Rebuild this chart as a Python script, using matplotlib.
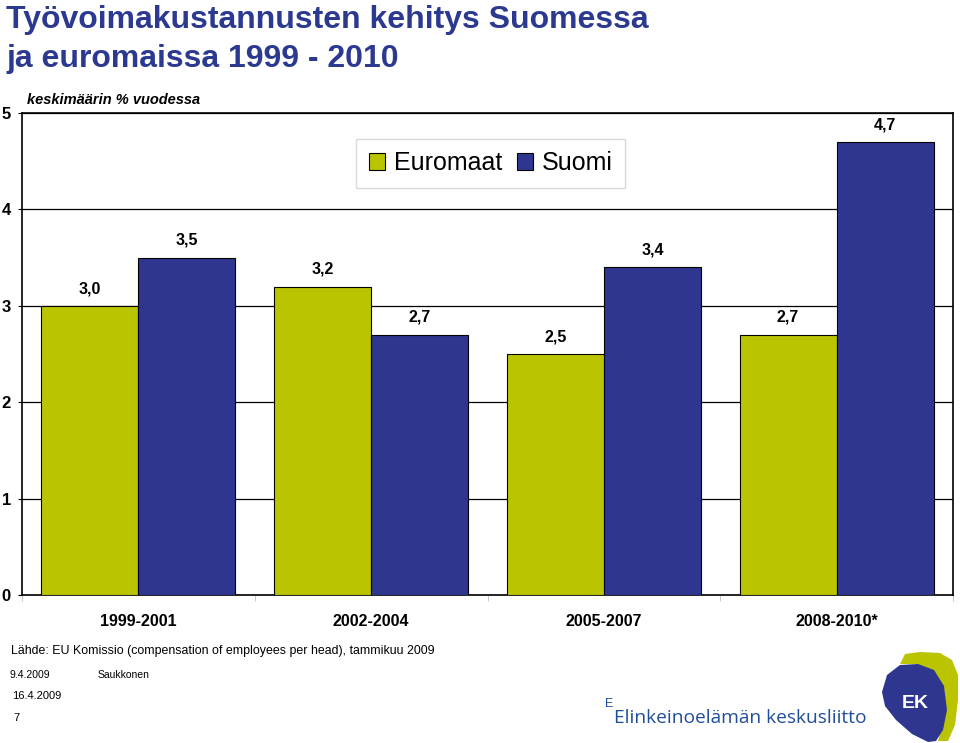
import matplotlib
matplotlib.use('Agg')
import matplotlib.pyplot as plt
import numpy as np
from matplotlib.patches import Polygon

# ── Data ─────────────────────────────────────────────────────────
periods = ['1999-2001', '2002-2004', '2005-2007', '2008-2010*']
euromaat = [3.0, 3.2, 2.5, 2.7]
suomi = [3.5, 2.7, 3.4, 4.7]
series_names = ['Euromaat', 'Suomi']

col_euro = '#BAC400'
col_fin = '#2E3690'
col_title = '#2B3990'

plt.rcParams['font.family'] = ['Liberation Sans', 'DejaVu Sans']

fig = plt.figure(figsize=(9.6, 7.43), dpi=100, facecolor='white')
ax = fig.add_axes([22 / 960, 1 - 595 / 743, (953 - 22) / 960, (595 - 113) / 743])

x = np.arange(len(periods))
w = 0.417
b1 = ax.bar(x - w / 2, euromaat, w, color=col_euro, edgecolor='black', linewidth=0.8, zorder=3)
b2 = ax.bar(x + w / 2, suomi, w, color=col_fin, edgecolor='black', linewidth=0.8, zorder=3)

for bars, vals in ((b1, euromaat), (b2, suomi)):
    for r, v in zip(bars, vals):
        ax.annotate(f'{v:.1f}'.replace('.', ','), (r.get_x() + r.get_width() / 2, v),
                    xytext=(0, 7), textcoords='offset points', ha='center', va='bottom',
                    fontsize=11.5, fontweight='bold')

ax.set_xlim(-0.5, len(periods) - 0.5)
ax.set_ylim(0, 5)
ax.set_yticks(range(6))
ax.set_yticklabels([str(i) for i in range(6)], fontsize=12, fontweight='bold')
ax.yaxis.grid(True, color='black', linewidth=0.9, zorder=0)
ax.set_axisbelow(True)
ax.tick_params(axis='y', length=3, pad=5)

ax.set_xticks(x)
ax.set_xticklabels(periods, fontsize=11.5, fontweight='bold')
ax.tick_params(axis='x', length=0, pad=14)
# faint category boundary ticks
ax.set_xticks(np.arange(-0.5, len(periods)), minor=True)
ax.tick_params(axis='x', which='minor', length=4, color='#bbbbbb')
for s in ax.spines.values():
    s.set_linewidth(1.2)
    s.set_color('black')

leg = ax.legend([b1, b2], series_names, loc='upper left',
                bbox_to_anchor=((356 - 22) / 931, 1 - (139 - 113) / 482),
                ncol=2, fontsize=18, frameon=True, fancybox=False,
                handlelength=0.65, handleheight=0.65, handletextpad=0.35,
                columnspacing=0.6, borderpad=0.5, borderaxespad=0)
leg.get_frame().set_edgecolor('#d0d0d0')
leg.get_frame().set_linewidth(1.0)

# ── Titles ───────────────────────────────────────────────────────
fig.text(6 / 960, 1 - 28 / 743, 'Työvoimakustannusten kehitys Suomessa',
         fontsize=23, fontweight='bold', color=col_title, va='baseline')
fig.text(6 / 960, 1 - 67 / 743, 'ja euromaissa 1999 - 2010',
         fontsize=23, fontweight='bold', color=col_title, va='baseline')
fig.text(27 / 960, 1 - 100 / 743, 'keskimäärin % vuodessa',
         fontsize=10.5, fontweight='bold', style='italic', va='center')

# ── Footer ───────────────────────────────────────────────────────
fig.text(11 / 960, 1 - 651 / 743,
         'Lähde: EU Komissio (compensation of employees per head), tammikuu 2009',
         fontsize=8.9, va='center')
fig.text(10 / 960, 1 - 675 / 743, '9.4.2009', fontsize=7.5, va='center')
fig.text(98 / 960, 1 - 675 / 743, 'Saukkonen', fontsize=7.5, va='center')
fig.text(12 / 960, 1 - 696 / 743, '16.4.2009', fontsize=8, va='center')
fig.text(13 / 960, 1 - 718 / 743, '7', fontsize=8, va='center')

# ── Logo ─────────────────────────────────────────────────────────
fig.text(605 / 960, 1 - 704 / 743, 'E', fontsize=9, color='#1F4E9C', va='center')
fig.text(614 / 960, 1 - 718 / 743, 'Elinkeinoelämän keskusliitto', fontsize=13.8,
         color='#1F4E9C', va='center', family=['Open Sans', 'DejaVu Sans'])


def fpt(px, py):
    return (px / 960, 1 - py / 743)


crescent = [fpt(*p) for p in [(905, 654), (920, 652), (940, 653), (952, 660),
                              (958, 675), (958, 700), (955, 725), (948, 741),
                              (938, 741), (946, 712), (944, 688), (934, 672),
                              (915, 664), (900, 664)]]
fig.patches.append(Polygon(crescent, closed=True, transform=fig.transFigure,
                           facecolor=col_euro, edgecolor='none'))
blob = [fpt(*p) for p in [(900, 665), (918, 664), (934, 670), (944, 686),
                          (947, 710), (943, 730), (936, 741), (928, 742),
                          (912, 734), (896, 720), (885, 706), (882, 692),
                          (887, 675)]]
fig.patches.append(Polygon(blob, closed=True, transform=fig.transFigure,
                           facecolor='#2E3690', edgecolor='none'))
fig.text(915 / 960, 1 - 703 / 743, 'EK', fontsize=14, fontweight='bold',
         color='white', ha='center', va='center')

fig.savefig('out.png', dpi=100, facecolor='white')
